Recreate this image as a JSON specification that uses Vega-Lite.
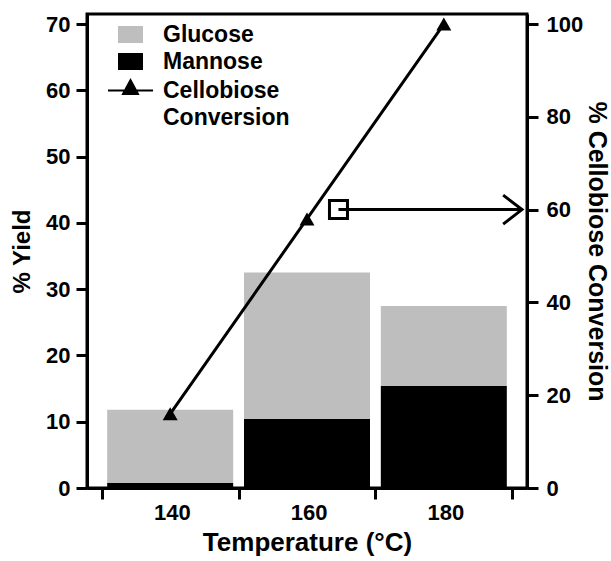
{
  "$schema": "https://vega.github.io/schema/vega-lite/v6.json",
  "width": 440,
  "height": 474,
  "autosize": {"type": "none"},
  "padding": {"left": 87, "top": 14, "right": 84, "bottom": 73},
  "config": {
    "view": {"stroke": "black", "strokeWidth": 3},
    "font": "Liberation Sans",
    "axis": {
      "domainColor": "black", "domainWidth": 3,
      "tickColor": "black", "tickWidth": 3, "tickSize": 11,
      "labelFont": "Liberation Sans", "labelFontWeight": "bold", "labelFontSize": 22, "labelColor": "black",
      "titleFont": "Liberation Sans", "titleFontWeight": "bold", "titleFontSize": 26, "titleColor": "black",
      "grid": false
    }
  },
  "datasets": {
    "sugars": [
      {"temp": 140, "sugar": "Mannose", "yield": 0.8},
      {"temp": 140, "sugar": "Glucose", "yield": 11.0},
      {"temp": 160, "sugar": "Mannose", "yield": 10.45},
      {"temp": 160, "sugar": "Glucose", "yield": 22.05},
      {"temp": 180, "sugar": "Mannose", "yield": 15.4},
      {"temp": 180, "sugar": "Glucose", "yield": 12.05}
    ],
    "conversion": [
      {"temp": 140, "conv": 16},
      {"temp": 160, "conv": 58},
      {"temp": 180, "conv": 100}
    ],
    "pointer": [
      {"temp": 164.6, "temp2": 191.4286, "conv": 60}
    ]
  },
  "layer": [
    {
      "data": {"name": "sugars"},
      "mark": {"type": "bar", "size": 126, "orient": "vertical"},
      "encoding": {
        "x": {
          "field": "temp", "type": "quantitative",
          "scale": {"domain": [128.5714, 191.4286], "nice": false, "zero": false},
          "axis": {
            "title": "Temperature (°C)",
            "values": [130, 150, 170, 190],
            "labelExpr": "datum.value < 185 ? format(datum.value + 10, 'd') : ''",
            "labelOffset": 70,
            "labelPadding": 3,
            "titlePadding": 6
          }
        },
        "y": {
          "field": "yield", "type": "quantitative", "stack": "zero",
          "scale": {"domain": [0, 71.51], "nice": false},
          "axis": {"title": "% Yield", "titleFontSize": 24, "values": [0, 10, 20, 30, 40, 50, 60, 70], "labelPadding": 6, "titlePadding": 11}
        },
        "color": {
          "field": "sugar", "type": "nominal",
          "scale": {"domain": ["Glucose", "Mannose", "Cellobiose Conversion"], "range": ["#bebebe", "#000000", "#000000"]},
          "legend": {
            "orient": "none", "legendX": 31, "legendY": 8,
            "title": null,
            "padding": 0,
            "symbolSize": 529,
            "symbolType": "M-1,-0.65L1,-0.65L1,0.65L-1,0.65Z",
            "labelFont": "Liberation Sans", "labelFontSize": 23, "labelFontWeight": "bold", "labelColor": "black",
            "labelOffset": 20, "rowPadding": 2,
            "labelExpr": "datum.label == 'Cellobiose Conversion' ? ['Cellobiose', 'Conversion'] : datum.label",
            "encode": {
              "labels": {"update": {"lineHeight": {"value": 27}}},
              "symbols": {
                "update": {
                  "shape": {"signal": "datum.value == 'Cellobiose Conversion' ? 'M-1.96,0L1.96,0M-0.65,0.3L0,-0.9L0.65,0.3Z' : 'M-1,-0.65L1,-0.65L1,0.65L-1,0.65Z'"},
                  "stroke": {"signal": "datum.value == 'Glucose' ? '#bebebe' : 'black'"},
                  "strokeWidth": {"value": 2}
                }
              }
            }
          }
        },
        "order": {"field": "sugar", "sort": "descending"}
      }
    },
    {
      "layer": [
        {
          "data": {"name": "pointer"},
          "mark": {"type": "point", "shape": "square", "filled": true, "fill": "white", "stroke": "black", "strokeWidth": 3, "size": 324, "opacity": 1},
          "encoding": {
            "x": {"field": "temp", "type": "quantitative"},
            "y": {
              "field": "conv", "type": "quantitative",
              "scale": {"domain": [0, 102.16], "nice": false},
              "axis": {"orient": "right", "title": "% Cellobiose Conversion", "titleFontSize": 25, "values": [0, 20, 40, 60, 80, 100], "labelPadding": 8, "titlePadding": 1}
            }
          }
        },
        {
          "data": {"name": "pointer"},
          "mark": {"type": "rule", "color": "black", "strokeWidth": 3},
          "encoding": {
            "x": {"field": "temp", "type": "quantitative"},
            "x2": {"field": "temp2"},
            "y": {"field": "conv", "type": "quantitative"}
          }
        },
        {
          "data": {"name": "pointer"},
          "mark": {"type": "point", "shape": "M-1.3,-1L0,0L-1.3,1", "filled": false, "stroke": "black", "strokeWidth": 3, "size": 841, "opacity": 1},
          "encoding": {
            "x": {"field": "temp2", "type": "quantitative"},
            "y": {"field": "conv", "type": "quantitative"}
          }
        },
        {
          "data": {"name": "conversion"},
          "mark": {"type": "line", "color": "black", "strokeWidth": 3},
          "encoding": {
            "x": {"field": "temp", "type": "quantitative"},
            "y": {"field": "conv", "type": "quantitative"}
          }
        },
        {
          "data": {"name": "conversion"},
          "mark": {"type": "point", "shape": "triangle-up", "filled": true, "color": "black", "size": 225, "opacity": 1},
          "encoding": {
            "x": {"field": "temp", "type": "quantitative"},
            "y": {"field": "conv", "type": "quantitative"}
          }
        }
      ]
    }
  ],
  "resolve": {"scale": {"y": "independent"}}
}
